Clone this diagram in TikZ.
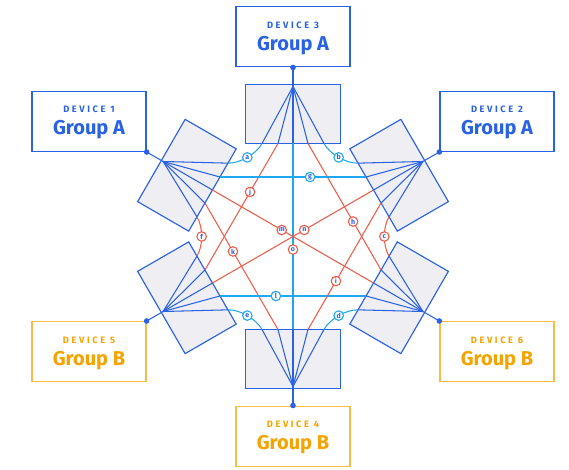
\documentclass[tikz,border=0pt]{standalone}
\usepackage{fontspec}
\setmainfont{Fira Sans}
\setsansfont{Fira Sans}
\newfontfamily\devfont[LetterSpace=28]{Fira Sans}
\usetikzlibrary{calc}
\definecolor{cblue}{HTML}{2A62E6}
\definecolor{ccyan}{HTML}{1FA8F2}
\definecolor{cred}{HTML}{EF5B48}
\definecolor{corange}{HTML}{F5A300}
\definecolor{corangeb}{HTML}{FBBB45}
\definecolor{cpanel}{HTML}{EEEEF3}
\begin{document}
\begin{tikzpicture}[x=1pt,y=1pt,
  panel/.style={draw=cblue, fill=cpanel, line width=1.15pt, line join=miter},
  fan/.style={draw=cblue, line width=1.05pt},
  same/.style={draw=ccyan, line width=1.05pt},
  cross/.style={draw=cred, line width=1.05pt},
  lab/.style={circle, fill=white, line width=1.1pt, minimum size=9.5pt, inner sep=0pt, font=\bfseries\fontsize{7}{7}\selectfont, text=cblue},
  labS/.style={lab, draw=ccyan},
  labX/.style={lab, draw=cred},
  devbox/.style={draw, line width=1.3pt, minimum width=114pt, minimum height=60pt, inner sep=0pt, fill=white},
  boxA/.style={devbox, draw=cblue},
  boxB/.style={devbox, draw=corangeb},
  devtxt/.style={anchor=base, inner sep=0pt, font=\devfont\bfseries\fontsize{9.3}{10}\selectfont},
  grptxt/.style={anchor=base, inner sep=0pt, font=\bfseries\fontsize{20}{22}\selectfont},
]
\useasboundingbox (-293,-233.5) rectangle (276,236.5);

% panels and coordinates
\foreach \k in {0,...,5}{
  \begin{scope}[rotate=60*\k]
    \draw[panel] (-47.5,93) -- (47.5,93) -- (47.5,152) -- (-47.5,152) -- cycle;
    \coordinate (h\k) at (0,150);
    \coordinate (dt\k) at (0,169);
    \coordinate (x\k-1) at (-31,93);
    \coordinate (x\k-2) at (-15,93);
    \coordinate (x\k-3) at (0,93);
    \coordinate (x\k-4) at (15,93);
    \coordinate (x\k-5) at (31,93);
  \end{scope}
}

% adjacent connections (curves)
\draw[same]  (x0-1) .. controls +(241.5:12) and +(358.5:12) .. (x1-5) node[labS, pos=0.5] (la) {a};
\draw[cross] (x1-1) .. controls +(301.5:12) and +(58.5:12) .. (x2-5) node[labX, pos=0.5] (lf) {f};
\draw[same]  (x2-1) .. controls +(1.5:12) and +(118.5:12) .. (x3-5) node[labS, pos=0.5] (le) {e};
\draw[same]  (x3-1) .. controls +(61.5:12) and +(178.5:12) .. (x4-5) node[labS, pos=0.5] (ld) {d};
\draw[cross] (x4-1) .. controls +(121.5:12) and +(238.5:12) .. (x5-5) node[labX, pos=0.5] (lc) {c};
\draw[same]  (x5-1) .. controls +(181.5:12) and +(298.5:12) .. (x0-5) node[labS, pos=0.5] (lb) {b};

% skip-one connections
\draw[cross] (x0-2) -- (x2-4);
\draw[cross] (x1-2) -- (x3-4);
\draw[same]  (x2-2) -- (x4-4);
\draw[cross] (x3-2) -- (x5-4);
\draw[cross] (x4-2) -- (x0-4);
\draw[same]  (x5-2) -- (x1-4);

% opposite connections
\draw[same]  (x0-3) -- (x3-3);
\draw[cross] (x1-3) -- (x4-3);
\draw[cross] (x5-3) -- (x2-3);

% fan lines and dots
\foreach \k in {0,...,5}{
  \foreach \d in {1,...,5}{
    \draw[fan] (h\k) -- (x\k-\d);
  }
  \draw[fan] (dt\k) -- (h\k);
}

% labels on straight lines
\path (x0-2) -- (x2-4) node[labX, pos=0.383] (lj) {j};
\path (x1-2) -- (x3-4) node[labX, pos=0.383] (lk) {k};
\path (x2-2) -- (x4-4) node[labS, pos=0.383] (ll) {l};
\path (x3-2) -- (x5-4) node[labX, pos=0.383] (li) {i};
\path (x4-2) -- (x0-4) node[labX, pos=0.383] (lh) {h};
\path (x5-2) -- (x1-4) node[labS, pos=0.383] (lg) {g};
\path (x0-3) -- (x3-3) node[labX, pos=0.57] (lo) {o};
\path (x1-3) -- (x4-3) node[labX, pos=0.43] (lm) {m};
\path (x5-3) -- (x2-3) node[labX, pos=0.43] (ln) {n};

% device boxes
\node[boxA, anchor=south east] (dev1) at (dt1) {};
\node[boxA, anchor=south west] (dev2) at (dt5) {};
\node[boxA, anchor=south] (dev3) at (dt0) {};
\node[boxB, anchor=north] (dev4) at (dt3) {};
\node[boxB, anchor=north east] (dev5) at (dt2) {};
\node[boxB, anchor=north west] (dev6) at (dt4) {};

\foreach \n/\c/\g in {1/cblue/A, 2/cblue/A, 3/cblue/A, 4/corange/B, 5/corange/B, 6/corange/B}{
  \node[devtxt, text=\c] (dev\n t) at ($(dev\n.center)+(0,8.5)$) {DEVICE \n};
  \node[grptxt, text=\c] (dev\n g) at ($(dev\n.center)+(0,-13.5)$) {Group \g};
}

\foreach \k in {0,...,5}{
  \fill[cblue] (dt\k) circle (2.8);
}
\end{tikzpicture}
\end{document}
